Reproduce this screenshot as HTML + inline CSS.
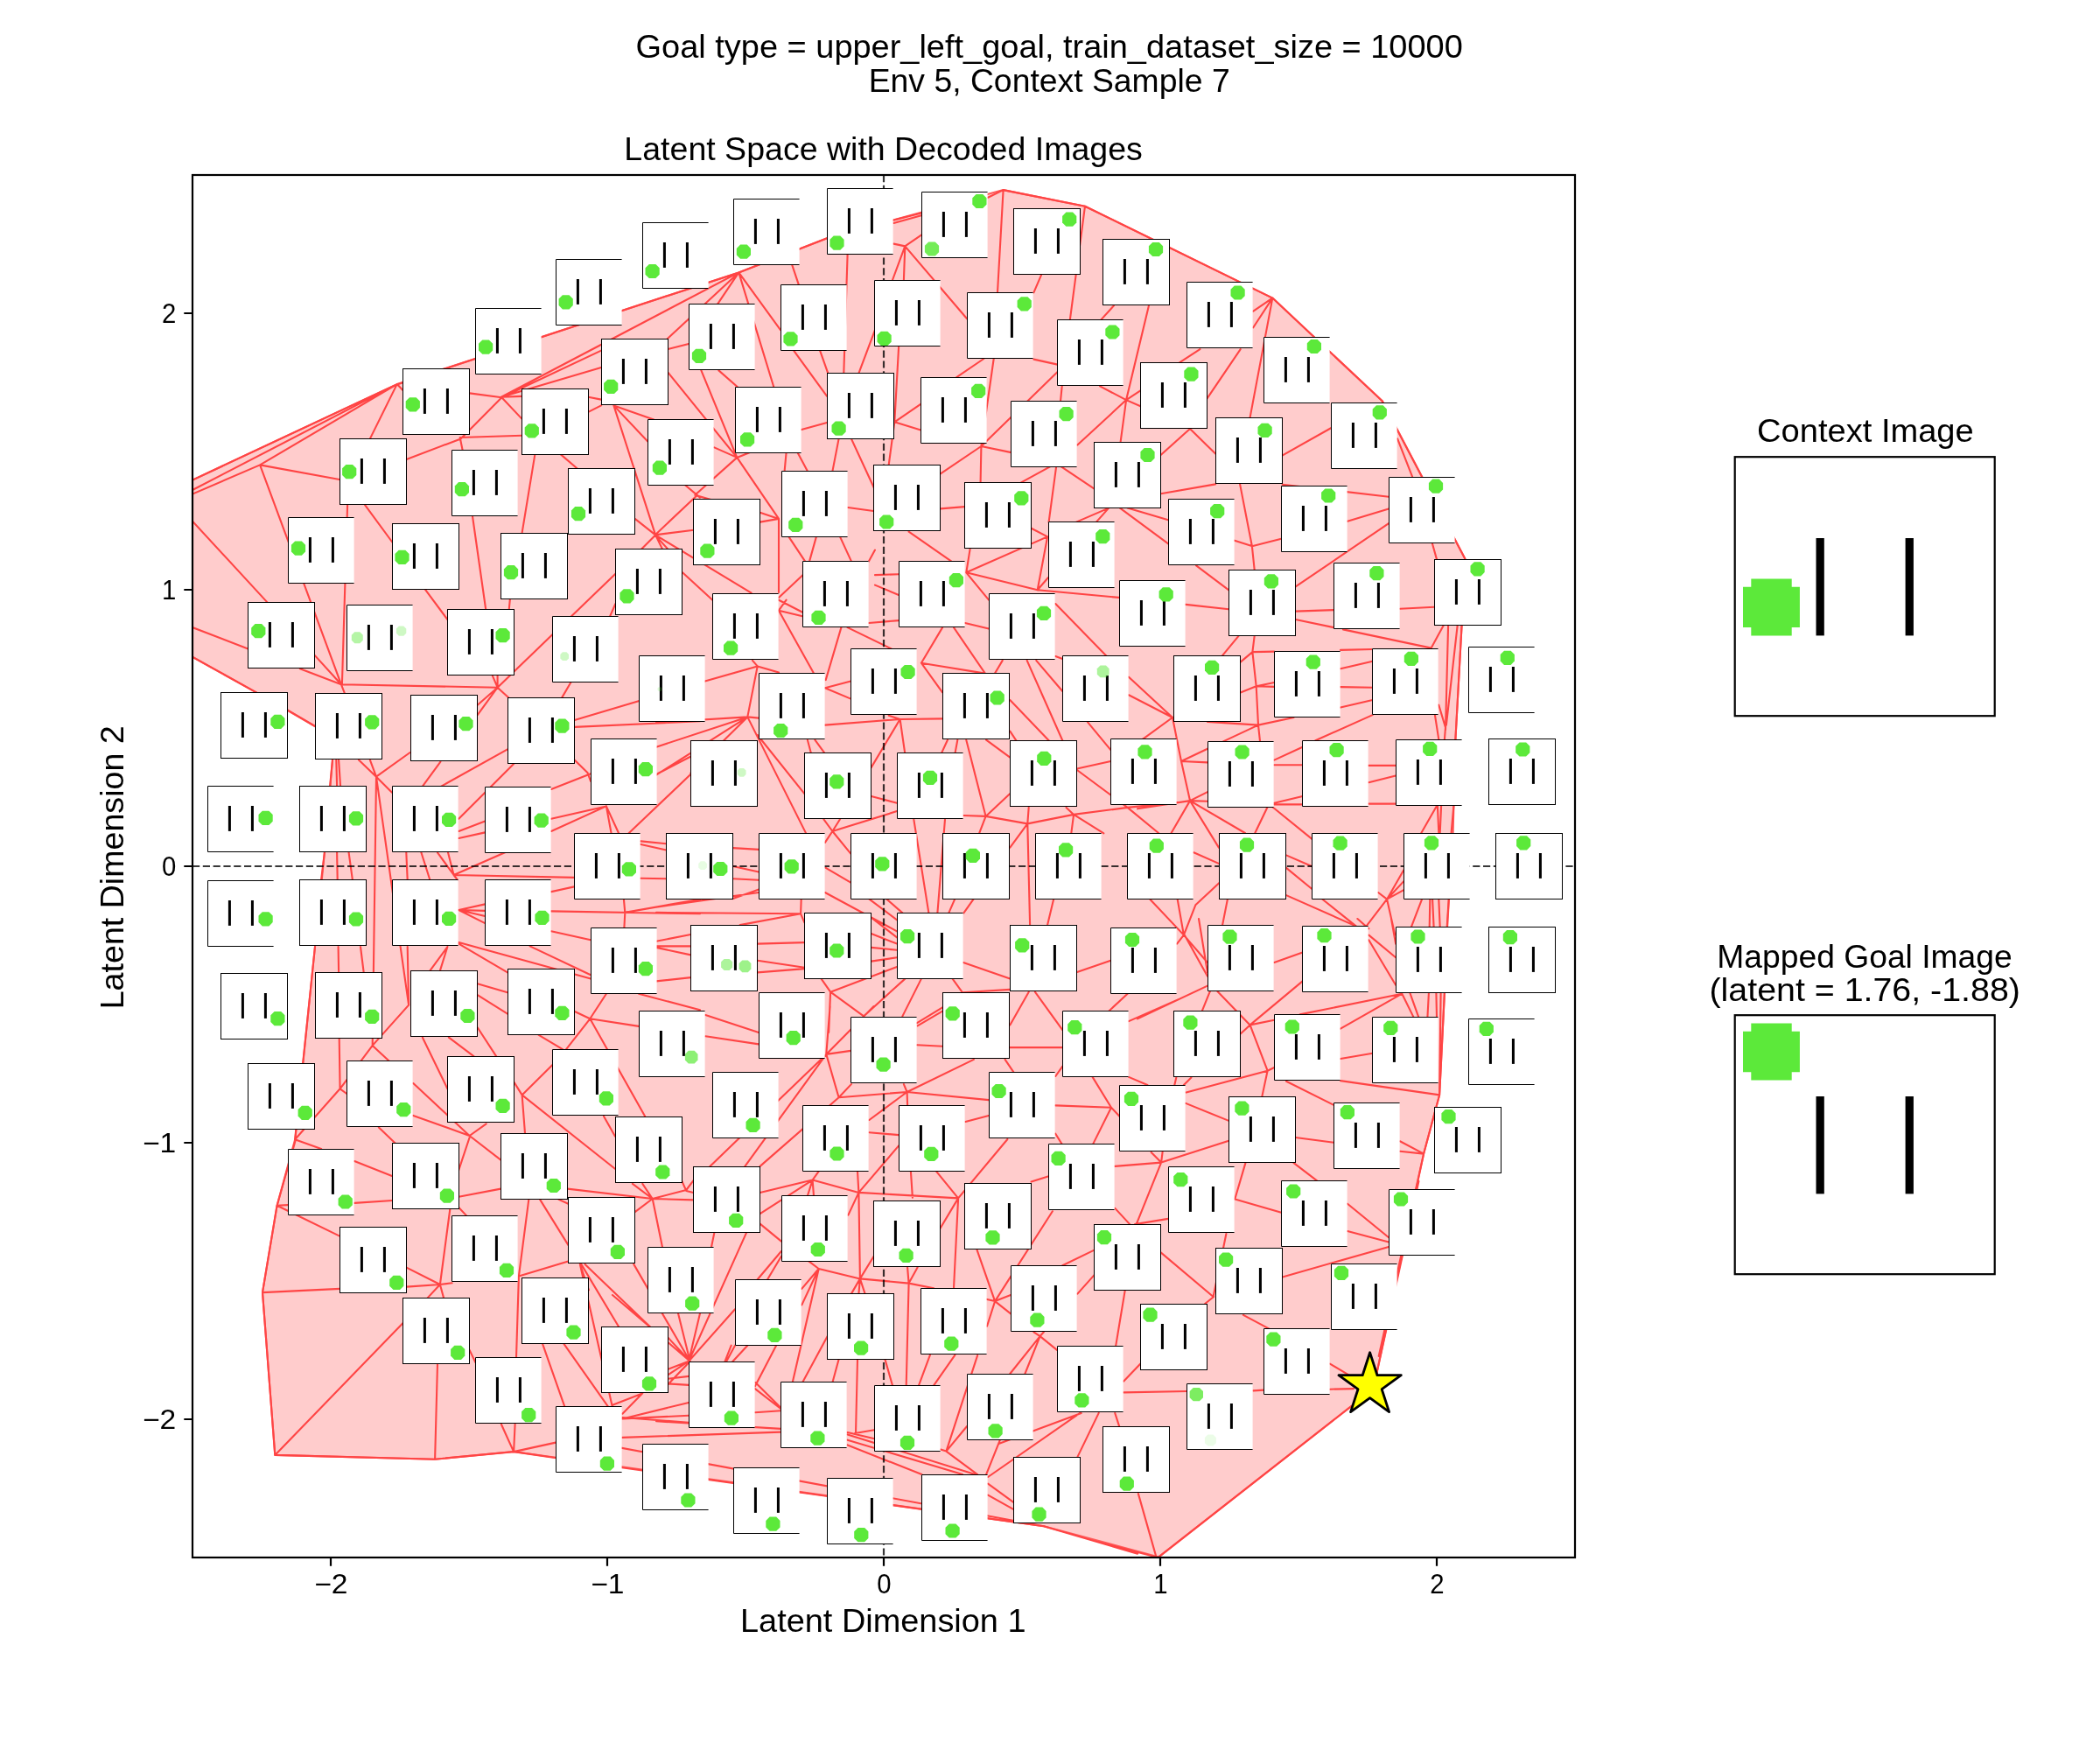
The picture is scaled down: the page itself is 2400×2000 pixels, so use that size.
<!DOCTYPE html>
<html><head><meta charset="utf-8"><title>Latent Space</title>
<style>
html,body{margin:0;padding:0;background:#fff;}
svg{display:block;}
text{font-family:"Liberation Sans",sans-serif;fill:#000;}
</style></head><body>
<svg width="2400" height="2000" viewBox="0 0 2400 2000" style="will-change:transform">
<rect width="2400" height="2000" fill="#fff"/>
<defs>
<clipPath id="ax"><rect x="220" y="200" width="1580" height="1580"/></clipPath>
<g id="t"><rect x="0.5" y="0.5" width="76" height="75" fill="#fff" stroke="#000" stroke-width="1"/><rect x="23.9" y="23.0" width="3" height="28.9" fill="#000"/><rect x="49.9" y="23.0" width="3" height="28.9" fill="#000"/></g>
<g id="u"><rect x="0" y="0" width="75.6" height="76" fill="#fff"/><path d="M75.6 0.5H0.5V75.5H75.6" fill="none" stroke="#000" stroke-width="1"/><rect x="23.9" y="23.0" width="3" height="28.9" fill="#000"/><rect x="49.9" y="23.0" width="3" height="28.9" fill="#000"/></g>
<polygon id="b" fill="#5ce93a" points="-3.8,-8.1 3.8,-8.1 8.1,-3.8 8.1,3.8 3.8,8.1 -3.8,8.1 -8.1,3.8 -8.1,-3.8"/>
</defs>
<g clip-path="url(#ax)">
<polygon fill="#ffcccc" points="200,558 453.7,439.1 844.3,311.4 946,272 1146.6,217.1 1240,235.7 1454.3,340.6 1580,458.6 1674.3,638.6 1670.6,714.3 1663.4,845 1660.6,952 1654.3,1055 1650.9,1134.9 1645.1,1251.4 1627.1,1318.6 1569.5,1587.4 1324.3,1779.4 1192.9,1744.3 587,1659 497.1,1667.7 314.3,1662.9 300,1477 316.6,1377.7 337.5,1301 360,1082 370.9,974.3 380,868.6 372,842 360,830 292.9,791.4 200,739.6"/>
<polygon fill="none" stroke="#ff5a5a" stroke-width="2.1" stroke-linejoin="round" points="200,558 453.7,439.1 844.3,311.4 946,272 1146.6,217.1 1240,235.7 1454.3,340.6 1580,458.6 1674.3,638.6 1670.6,714.3 1663.4,845 1660.6,952 1654.3,1055 1650.9,1134.9 1645.1,1251.4 1627.1,1318.6 1569.5,1587.4 1324.3,1779.4 1192.9,1744.3 587,1659 497.1,1667.7 314.3,1662.9 300,1477 316.6,1377.7 337.5,1301 360,1082 370.9,974.3 380,868.6 372,842 360,830 292.9,791.4 200,739.6"/>
<path d="M700 1652.9L1192.9 1744.3M700 1675.7L1192.9 1744.3M453.7 439.4L844.3 311.4M430 887.7L425.7 1194.9M572.9 453.7L844.3 311.4M1544.3 1607.1L1324.3 1779.4M297.1 531.4L390 782.3M430 887.7L467.1 1148.6M220 560L453.7 439.1M220 548.6L453.7 439.1M1240 235.7L1454.3 340.6M1627.1 1318.6L1575.7 1550M1621.4 1350L1571.4 1578.6M360 1082L337.1 1302.3M314.3 1662.9L460.6 1512M397.1 577.1L390.9 782.3M1579.6 458.6L1674.3 638.6M568.6 785.7L703.4 655.7M300 1477.1L314.3 1662.9M944.3 1204.9L811.4 1332.9M314.3 1662.9L497.1 1667.7M297.1 531.4L453.7 439.1M711.4 1642.9L892 1636.6M390 782.3L568.6 785.7M1454.3 340.6L1580 458.6M630 1041.4L800 1044.3M662.9 1444.9L700 1608.6M915.1 1044.3L750 1042.9M787.1 1555.7L852.9 1409.1M944.3 1204.9L851.4 1332.9M524.3 1077.1L675.1 1118.6M701.4 463.4L749.1 611.4M968.6 1639.4L1114.3 1685.1M854.3 819.4L921.4 952.9M656.6 830.9L800 824.3M750 1624.3L892.3 1632.9M1454.3 340.6L1428.6 477.1M518.6 1000L656.3 1002.9M968.6 1645.7L1100 1685.1M844.3 311.4L884.3 442.3M968.6 290.9L964.3 426.6M596.6 1251.4L702.9 1335.7M935.7 1450L905.7 1580M1670.6 714.3L1663.4 845.1M1240 235.7L1222.9 365.1M1587.5 597.9L1480.4 670.7M724.3 1444.9L788.6 1555.7M1234.3 1614.9L1129.1 1688M749.1 611.4L858.6 677.7M674.3 1164.3L737.1 1275.7M220 595.7L305.7 688.6M1465.7 1459.4L1587.1 1424.9M573.4 454.3L687.1 400.6M763.4 425.7L842.3 522.9M1465.7 553.7L1587.1 567.7M1202.9 1384.3L1137.1 1487.1M1121.4 510L1208.6 425.1M1655.1 714.3L1652 834.3M958.6 1254.3L868.6 1332.9M572.9 453.7L687.1 420M1485.7 1159.4L1602.3 1135.7M750 1036.6L867.1 1020M1146.6 217.1L1140 334.3M1038.6 1466.6L1035.7 1583.4M1650.9 1134.9L1645.1 1251.4M1646.6 1134.9L1645.1 1251.4M788.6 1555.7L700 1480M1174.3 941.4L1177.1 1057.1M1117.1 1549.1L1081.4 1658.6M1665.7 714.3L1652.9 828.6M1532 1235.1L1645.1 1251.4M981.4 1362.9L1095.1 1369.4M1192.9 1744.3L1300 1775.7M762.9 387.1L844.3 311.4M540 590L555.7 700M1287.1 457.1L1312.9 349.4M854.3 819.4L750 853.7M500 1558.6L497.1 1667.7M1034.3 281.4L1105.1 364.3M844.3 311.4L945.7 272M1044.3 936.3L1061.4 1043.4M801.4 423.4L842.3 522.9M1080 936.3L1071.4 1043.4M854.3 819.4L750 825.7M668.6 1444.9L742.9 1516.3M1534.9 719.4L1635.7 740.6M1095.1 1369.4L1090 1472.3M1197.1 613.4L1104.3 654.3M1135.7 410L1121.4 510M316.6 1377.7L300 1477.1M1235.7 1615.1L1141.4 1650M1173.7 754.9L1214.3 846.3M718.6 952.3L790 884.3M981.4 1362.9L982.9 1461.4M648.6 1358.6L745.7 1370M1448.6 1223.7L1355.7 1248.6M1146.6 217.1L1240 235.7M1036.6 1248L1130 1257.1M942.9 1020L1025.1 1064.3M1185.7 674.3L1278.6 682.9M592.9 1458.6L590 1551.4M297.1 531.4L388 548M968.6 1651.4L1053.4 1685.1M611.4 519.1L596.6 609.1M854.3 819.4L789.4 883.4M497.1 1667.7L587.1 1659.1M1104.3 845.7L1126.6 932.9M644.3 1535.7L695.7 1608.6M524.3 935.7L587.1 872.9M300 1477.1L388.6 1472.9M604.3 1370.9L592.9 1458.6M1300 1164.3L1380 1126.6M1469.4 1022.9L1550 1058.6M472.3 1238L536.6 1298M1151.4 1302L1095.1 1369.4M714.3 1042.9L800 1027.7M502.9 1468L514.3 1382M504.3 898.6L580 856.3M865.7 840L919.4 907.1M1028.6 822L942.9 828.6M1027.1 396.6L1022.3 482.3M980 1553.4L978 1638.6M1654.3 1050L1650.9 1134.9M1036.6 1248L1112.9 1210.9M842.3 522.9L890 592.9M890 592.9L890 677.1M297.1 531.4L220 564.6M1104.3 654.3L1185.7 674.3M220 750.9L292.9 791.4M664.3 1444.9L707.1 1516.3M1206.3 690L1264.3 749.4M890 697.7L930 769.4M949.1 1133.7L1025.1 1104.9M844.3 311.4L892 377.1M1327.1 1328.6L1404.3 1303.7M1602.3 1135.7L1532 1175.7M338.6 1300L316.6 1377.7M316.6 1377.7L388.6 1412.9M787.1 1555.7L840 1496.3M1326.6 1431.4L1386.6 1482M958.6 1254.3L1036.6 1248M1488.6 1121.4L1428.6 1171.4M711.4 1621.4L787.1 1602.9M388.6 1244.3L337.1 1302.3M620 1535.7L645.7 1608.6M656.6 822.9L730.6 800.9M944.3 1204.9L998.6 1150M951.4 950L1025.1 927.1M605.7 1081.4L675.1 1114.3M854.3 819.4L789.4 860.6M1327.1 1328.6L1298.6 1399.4M711.4 1620L787.1 1625.7M1287.1 457.1L1231.4 508.6M711.4 1621.4L787.1 1617.7M1300.9 1707.1L1321.4 1779.4M1321.4 1779.4L1250 1760.9M1386.6 1482L1401.4 1410M1360 915.1L1422.9 952M730 1135.7L800 1154.3M1052.9 757.7L1124.3 769.4M1417.1 553.4L1430.9 624.3M1284.3 1591.4L1356.3 1590M1230.9 880L1288.6 922.9M1568.6 817.1L1503.4 846.3M928.6 1348.6L868.6 1387.1M525.7 500L596.6 497.7M915.1 1044.3L845.7 1057.1M981.4 1362.9L1027.1 1309.4M1645.1 1251.4L1627.1 1318.6M453.7 439.1L422.9 501.4M630 950L692.9 921.4M1280 580.6L1335.1 621.4M536.6 1298L472.3 1274.9M1417.7 399.1L1379.4 455.7M1340 820L1290 773.7M220 717.1L283.4 741.4M467.1 1148.6L465.7 1082M573.4 454.3L526.6 501.4M464.6 525.1L526.6 501.4M482.9 1185.7L511.4 1244.3M524.3 1078.6L580 1111.4M748.6 611.4L795.7 567.1M907.1 400.6L945.1 452.9M1285.7 1474.9L1275.1 1538.6M972.9 501.4L1000 560M630 935.7L692.9 921.4M842.3 522.9L794.3 565.7M1028.6 822L995.7 877.1M806.3 1160L867.1 1180M1154.3 800L1198.6 846.3M518.6 1000L577.1 974.3M1465.8 520.3L1521.5 489M1270 1265.7L1206.3 1263.4M1207.1 533.4L1198.6 596.6M1034.3 1118.6L987.1 1161.4M1326.6 564.3L1389.1 553.4M1090 717.1L1125.7 769.4M1360 915.1L1392.9 968.6M961.4 717.1L943.7 777.1M865.7 761.4L805.7 778.6M1370 1050L1380 1111.4M467.1 1148.6L425.7 1194.9M1137.1 1487.1L1116.6 1428.6M1227.1 930.9L1288.6 922.9M1197.1 613.4L1185.7 674.3M388.6 1244.3L425.7 1194.9M928.6 1348.6L868.6 1362.9M806.3 1184.3L867.1 1193.4M617.1 1370.9L649.4 1422.9M1540 1375.7L1587.1 1414.3M1470 1235.7L1524.3 1262.9M1360 915.1L1300 924.3M1153.7 1197.1L1214.3 1197.1M1345.1 1142.9L1290 1167.1M945.7 1527.1L917.1 1580M1564.3 1074.3L1595.1 1125.7M1038.6 607.7L1087.1 641.4M854.3 819.4L865.7 761.4M592.9 1458.6L649.4 1441.4M1380 824.9L1438 828.6M1454.3 922.3L1499.1 958.6M1288.6 922.9L1345.7 917.1M387.7 1187.1L388.6 1244.3M745.7 1370L757.1 1425.7M788.6 1555.7L774.9 1500.6M1100.9 1100L1154.3 1118.6M674.3 1164.3L730 1172.9M787.1 1555.7L800 1500.9M1340 820L1290 794.3M701.4 463.4L740 504.3M1352.9 1068.6L1314.3 1027.7M1121.4 510L1074.9 541.4M1428.6 1171.4L1448.6 1223.7M982.9 1461.4L1038.6 1466.6M1255.7 1614.9L1231.4 1665.1M968.6 717.1L1018.6 741.4M944.3 1204.9L948.6 1150M1411.4 1370.6L1464.3 1385.7M1188.6 1527.1L1154.3 1570M928.6 1348.6L981.4 1362.9M1100 1134.3L1154.3 1130.9M865.7 1097.7L919.4 1105.7M1353.7 1068.6L1380 1115.7M1174.3 941.4L1227.1 930.9M865.7 1111.4L919.4 1107.1M865.7 1078.6L919.4 1077.1M1036.6 1248L993.4 1280M1182.9 1133.7L1214.3 1177.1M1428.6 1171.4L1391.4 1132.9M417.1 577.1L448.6 620M1355.1 1260.9L1404.3 1280.9M1327.1 1328.6L1274.3 1332.9M981.4 426.6L1000 377.1M887.1 1537.7L862.9 1584.3M944.3 1204.9L958.6 1254.3M1350 870L1340 820M342.9 764.3L390 782.3M1022.3 482.3L1015.7 531.4M1355.1 690.9L1404.3 696.3M1511.4 1027.7L1550 1058.6M1540 595.7L1587.1 581.4M587.1 1659.1L635.1 1648.6M587.1 1659.1L635.7 1666.3M596.6 1251.4L631.4 1217.1M524.3 1367.7L572.3 1358.6M1540 1407.1L1587.1 1419.4M1028.6 822L1077.1 821.4M1288.6 580.6L1335.1 594.3M935.7 1450L982.9 1461.4M630 902L675.1 884.3M1126.6 932.9L1174.3 941.4M1287.1 457.1L1280.6 505.1M701.4 463.4L747.1 479.4M1052.9 1118.6L1031.4 1161.4M1270 1265.7L1248.6 1308.6M430 887.7L468.6 860M1052.9 757.7L1077.1 717.1M745.7 1370L792.9 1371.4M1597.1 501.4L1614.3 545.4M949.1 1133.7L987.1 1161.4M789.4 860.6L750 885.7M405.1 1327.1L448.6 1344.3M1367.1 646.3L1404.3 674.3M780 654.3L814.3 685.7M949.1 1133.7L947.1 1180M1288.6 922.9L1324.3 952.3M1350 870L1360 915.1M630 1064.3L675.1 1074.3M1184.3 754.9L1214.3 790M1188.6 1527.1L1171.4 1570M935.7 1450L916.3 1491.4M359.4 748.6L390 782.3M1212.9 533.4L1250.6 558.6M536.6 1298L572.3 1325.7M1360 490L1326.6 520M1480.6 708L1524.3 717.1M748.6 611.4L792.9 605.7M1081.4 1658.6L1117.1 1685.1M787.1 1555.7L750 1580M1435.7 784.3L1438 828.6M1438 828.6L1398 847.4M674.3 1164.3L647.1 1199.1M1480.6 1300L1524.3 1305.7M596.6 1251.4L600 1295.1M1480.6 698.6L1524.3 697.1M820 347.7L844.3 311.4M405.1 1374.9L448.6 1372M751.4 884.3L790 864.3M1175.7 1133.7L1154.3 1171.4M485.7 673.4L511.4 708M502.9 1468L464.6 1448.6M1360 915.1L1338.6 952M1423.4 1329.1L1411.4 1370M1091.4 1548.6L1067.1 1583.4M1142.9 1645.7L1127.1 1685.1M892.9 1430L865.7 1462.3M1585.1 1027.7L1594.3 1068.6M1242.9 825.1L1269.4 857.1M1052.9 757.7L1077.1 791.4M1352.9 1068.6L1380 1100M1352.9 1068.6L1345.7 1027.7M1438 828.6L1478.6 820M1121.4 510L1120.6 551.4M1034.3 281.4L1020 320M1248.6 1230.9L1270 1265.7M1360 490L1389.1 518.6M1230.9 1110.9L1269.4 1097.7M1095.1 1369.4L1074.3 1404.3M1104.3 654.3L1130 685.7M1267.1 580.6L1230 596.6M1227.1 930.9L1261.4 952.3M545.7 1137.1L580 1158.6M863.4 1580L892 1608.6M992.9 1027.1L1025.1 1051.4M1214.3 1446.3L1250.6 1428.6M750 1082.9L789.4 1091.4M1454.3 340.6L1432.3 374.3M750 1075.7L789.4 1068M1564.3 1068.6L1595.1 1094.3M745.7 1370L784.3 1360M1028.6 822L1034.3 861.4M1095.1 1369.4L1070 1338.6M787.1 1555.7L750 1570M750 1121.4L789.4 1117.1M1230.9 878.6L1269.4 870M750 1081.4L789.4 1081.4M1431.4 745.1L1435.7 784.3M545.7 1174.3L567.1 1207.1M1600 695.7L1639.1 693.7M524.3 1337.1L536.6 1300M1585.1 1027.7L1561.4 1058.6M1340 820L1308.6 842.9M568.6 785.7L545.7 817.1M1034.3 281.4L1032.9 320M1585.1 1027.7L1604.3 994.3M1297.1 1399.1L1335.1 1392.9M1469.4 991.4L1499.1 1015.7M502.9 1468L464.6 1470.6M1124.3 410L1092.9 431.4M958.6 501.4L951.4 538.6M1126.6 932.9L1154.3 907.1M890 682.9L917.7 657.1M1532 808.6L1568.6 800M1532 764.3L1568.6 755.7M1200 533.4L1167.1 551.4M995.7 1048.6L1025.1 1071.4M862.9 1587.1L892.3 1610M573.4 454.3L536.6 449.4M1062.9 1548.6L1050 1583.4M1081.4 1658.6L1105.1 1630M1532 1210L1568.6 1203.7M1022.3 482.3L1052.9 461.4M1393.4 1009.1L1366.3 1034.3M788.6 1555.7L763.4 1528.6M1366.3 1034.3L1352.9 1068.6M788.6 1555.7L763.4 1582.3M1532 742.9L1568.6 742M1532 785.1L1568.6 785.7M328.6 811.4L360 830M1129.1 1695.7L1158.6 1717.1M1642.3 920.6L1624.3 952M545.7 1124.3L580 1134.3M512.9 1185.7L541.4 1207.1M1488.6 853.7L1456.3 868.6M700 1605.7L732.9 1592.9M1121.4 510L1155.7 517.1M482.9 898.6L503.4 870.6M1420.9 1502.9L1451.4 1519.1M573.4 454.3L597.1 479.4M572.9 1627.7L587.1 1659.1M1430.9 624.3L1464.3 615.7M992.9 712L1027.1 709.1M1456.3 1100L1488.6 1088.6M1048 1169.1L1077.1 1151.4M674.3 1164.3L692.9 1135.7M942.9 991.4L972.3 1008.6M1625.1 1027.7L1612.9 1059.4M692.9 921.4L707.1 952.3M511.4 1082L491.4 1109.4M1287.1 457.1L1257.1 441.4M993.4 1294.3L1027.1 1297.1M1129.1 1708.6L1158.6 1725.1M1127.1 845.7L1154.3 865.7M1174.3 941.4L1154.3 968.6M524.3 1040L554.3 1055.1M901.4 613.4L920 641.4M1478.6 1329.1L1505.1 1349.4M1380 855.7L1350 870M1456.3 917.7L1488.6 910M951.4 950L972.3 975.7M1048.6 1172.3L1077.1 1155.7M481.4 974.3L491.4 1005.7M1448.6 922.3L1434.3 952M734.3 1592.3L711.4 1615.7M1021.4 254.9L1052.9 246.3M1021.4 251.4L1052.9 243.4M1469.4 977.1L1499.1 990M1456.3 874.3L1488.6 874.3M1456.3 919.4L1488.6 919.4M524.3 950L554.3 938.6M942.9 786.3L972.3 798.6M1364.3 974.3L1393.4 987.1M337.1 1302.3L367.1 1312.9M1564.3 894.3L1595.1 886.6M1655.7 1027.7L1653.7 1059.4M1644.3 1027.7L1645.7 1059.4M1637.1 1027.7L1638.6 1059.4M1634.3 1027.7L1633.7 1059.4M398.6 974.3L402.9 1005.7M500 974.3L518.6 1000M968.6 1637.1L999.4 1644.3M615.7 1182.9L642.9 1199.1M370.9 974.3L367.1 1005.7M995.7 1067.1L1025.1 1078.6M1661.4 920.6L1658.6 952M464.3 974.3L465.7 1005.7M1642.9 920.6L1644.3 952M1647.1 920.6L1645.7 952M588.6 1627.7L587.1 1659.1M892.9 1418.6L868.6 1398.6M385.1 974.3L385.7 1005.7M692.9 921.4L698.6 952.3M1022.3 482.3L1052.3 491.4M837.7 1027.1L867.1 1016.6M1011.4 1553.4L1020 1583.4M890 685.7L917.7 700M969.1 580L1000 584.3M662.9 1444.9L672.9 1474.3M892.9 1435.7L877.1 1462.3M1564.3 918.6L1595.1 918.6M1564.3 874.9L1595.1 874.9M524.3 1040L554.3 1047.1M1204.3 1027.1L1197.1 1057.1M960 613.4L972.9 641.4M524.3 1040L554.3 1033.4M524.3 958L554.3 951.4M1600 1304.3L1627.1 1318.6M942.9 786.3L972.3 778.6M995.7 910L1025.1 917.7M568.6 785.7L545.7 805.7M1448.6 1223.7L1442.3 1253.4M1602.3 1135.7L1615.7 1162.9M916 490.9L945.1 482.9M837.7 990L867.1 996.6M982.9 1461.4L998.6 1435.7M380 868.6L377.1 898.6M387.1 868.6L389.1 898.6M1040.9 1338.6L1042.9 1368.6M1350 870L1380 871.4M384.3 868.6L385.1 898.6M524.3 1040L554.3 1040.9M935.7 1450L916.3 1472.9M1137.1 1487.1L1128 1515.7M1402.9 1027.7L1397.1 1057.1M1650 714.3L1635.7 740.6M725.7 592.9L749.1 611.4M732.3 964.9L761.4 971.4M995.7 1098.6L1025.1 1094.3M1611.4 1134.9L1621.4 1162.9M412 1082L415.7 1111.4M995.7 1082.9L1025.1 1085.7M862.9 1614.3L892.3 1612.3M837.7 969.1L867.1 970.9M837.7 1004.3L867.1 1005.7M1000 668.6L1027.1 680M386.6 1082L387.1 1111.4M1288.6 1135.7L1267.1 1155.7M732.3 961.4L761.4 964.3M1415.7 726.6L1397.1 749.1M1048 1194.3L1077.1 1195.7M732.3 1003.7L761.4 1004.3M1038.6 1466.6L1067.1 1472.3M932.9 613.4L925.1 641.4M1590 1050L1595.1 1078.6M511.4 1082L502.9 1109.4M1231.4 1478.6L1250.6 1457.1M745.7 1370L722.9 1352.9M821.4 423.4L842.9 442.3M816.3 511.4L842.3 522.9M981.4 1362.9L969.4 1388.6M1428.6 1171.4L1456.3 1165.7M944.3 1204.9L972.3 1200.9M1585.1 1027.7L1604.3 1007.1M1632.9 1134.9L1631.4 1162.9M1641.4 1134.9L1642 1162.9M890 697.7L917.1 704.3M1102.9 712L1130 718.6M1371.4 399.1L1348 414.3M1181.4 410.6L1208.6 416.6M1640 817.7L1644.3 845.1M1284.3 1578.6L1303.4 1558.6M430 887.7L410 868.6M937.1 400.6L946.3 426.6M1074.9 581.4L1102.3 579.1M1103.4 1282L1130 1274.9M958.6 1553.4L951.4 1580M1430.9 624.3L1433.7 651.4M1600 1315.7L1627.1 1318.6M1000 657.1L1027.1 656.3M1520 1587.7L1547.1 1587.1M1104.3 654.3L1108.6 627.7M630 1019.1L656.3 1013.4M1644.3 805.7L1652 831.4M1454.3 340.6L1432.3 355.7M512 974.3L518.6 1000M690 1275.7L702.9 1298.6M432.9 1288.6L451.4 1306.3M425.7 1194.9L444.3 1212.3M430 887.7L448 905.7M865.7 761.4L890 768.6M1274.3 1380.9L1291.4 1399.4M837.1 1556.3L854.3 1537.7M1126.6 932.9L1101.4 932M640.9 519.4L660 535.7M745.7 1370L725.7 1385.1M1520 1558.6L1541.4 1571.4M1188.6 1527.1L1208 1542.9M1431.4 745.1L1456.3 744.6M1012.9 1027.1L1031.4 1043.4M905.1 302.3L912.9 325.7M1382.9 1132.9L1373.7 1155.7M763.4 399.1L787.1 392.9M981.4 1362.9L980 1338.6M911.4 517.1L922.9 538.6M763.4 1575.7L787.1 1572.9M763.4 1581.4L787.1 1582.9M572.9 453.7L596.6 452.9M536.6 1298L555.7 1284.3M1290 1230.9L1311.4 1240M749.1 611.4L732.9 627.7M1137.1 1487.1L1155.1 1501.4M1034.3 281.4L1052.9 268.6M890 592.9L868.6 585.7M1360 915.1L1380 905.1M782.9 554.3L800 568.6M977.1 1638L999.1 1634.3M1585.1 1027.7L1604.3 1017.1M1190 314.3L1181.4 334.3M890 592.9L868.6 596.6M1227.1 930.9L1224.3 952.3M1431.4 624.3L1410.9 617.7M898.6 517.1L896.6 538.6M1267.1 580.6L1252.9 596.6M1272.9 349.4L1258.6 365.1M748.6 611.4L762.9 627.1M830 1556.3L840 1537.7M502.9 1468L488.6 1483.4M1435.7 784.3L1456.3 780M1178.6 1350.6L1198.6 1344.3M1197.1 613.4L1178.6 603.7M958.6 1254.3L972.9 1239.1M794.3 565.7L814.3 571.4M1126.6 932.9L1119.1 952.3M656.6 868.6L671.4 882.9M745.7 1370L734.3 1352.9M1038.6 1466.6L1048.6 1448.6M1435.7 784.3L1456.3 784.9M430 887.7L422.9 868.6M1360 915.1L1380 915.7M674.3 1164.3L656.3 1155.7M1101.4 1043.4L1112.9 1027.1M652.3 780L642.3 797.1M982.9 1461.4L972.9 1478.6M1636.8 620.8L1642.1 639.6M1287.1 457.1L1303.4 446.3M1088.6 1118.6L1100 1134.3M931.4 845.7L942.9 861.4M1129.1 225.7L1146.6 217.1M1435.7 784.3L1417.7 791.4M835.7 1537.7L828.6 1555.7M1137.1 1487.1L1155.1 1480M928.6 1348.6L922.9 1366.6M1185.7 674.3L1198 660M1433.7 726.6L1431.4 745.1M1438 828.6L1440 847.1M1174.3 941.4L1175.7 922.9M949.1 1133.7L938.6 1118.6M749.1 611.4L757.1 627.7M982.9 1461.4L988.6 1478.6M928.6 1348.6L930 1366.6M1038.6 1466.6L1037.1 1448.6M1148.6 1210.9L1158.6 1225.7M1431.4 745.1L1417.7 756.6M1084.3 1043.4L1091.4 1027.1M1287.1 457.1L1303.4 464.3M1082.9 845.7L1075.7 861.4M1213.7 441.4L1212 458.6M1564.3 1061.4L1551.4 1050M982.9 1461.4L981.4 1478.6M714.3 1042.9L713.4 1060M915.1 1044.3L915.7 1027.1M951.4 950L941.4 936.3M816.3 1409.1L812.9 1425.7M1137.1 769.4L1145.7 754.9M596.6 1251.4L587.7 1237.1M568.6 785.7L580.9 797.1M672.3 470.9L687.1 463.4M1274.3 1615.1L1279.4 1630.9M922.9 845.7L927.1 861.4M951.4 950L960 936.3M1327.1 1328.6L1315.7 1317.1M502.9 1468L507.1 1483.4M1094.3 845.7L1091.4 861.4M842.3 522.9L857.1 517.1M536.6 1542.9L543.4 1557.1M582.9 684.3L581.4 700M697.1 704.3L703.4 690M951.4 950L942.9 962.9M1036.6 1248L1037.1 1263.4M714.3 1042.9L712.9 1027.7M1206.3 1295.7L1214.3 1308.6M672.3 453.7L687.1 456.6M1428.6 1171.4L1417.7 1181.4M890 697.7L898.6 685.7M992.9 641.4L1000 628.6M568.6 785.7L562.9 772.3M525.7 500L528.6 514.3M935.7 1450L924.3 1441.4M784.3 1360L792.9 1348.6M1214.3 1218.6L1206.3 1230M502.9 1468L516.6 1466.3M1652 831.4L1650.9 845.1M1270 1265.7L1279.4 1275.7M1028.6 822L1015.7 817.7M568.6 785.7L568.6 772.3M1034.3 281.4L1021.4 278.6M854.3 819.4L867.1 820.6M1387.1 1482L1377.1 1490M1154.3 835.7L1161.4 846.3M1585.1 1027.7L1575.1 1020M1352.9 1068.6L1345.1 1078.6M316.6 1377.7L329.1 1377.1M524.3 1380L532.9 1389.1M928.6 1348.6L935.7 1338.6M1361.4 1231.4L1352.9 1240M1327.1 1328.6L1328.6 1316.6M1432.3 1589.4L1444.3 1588.6M390 782.3L394.3 793.4M638.6 1370.9L649.4 1375.7M784.3 1360.9L779.4 1350M1227.1 930.9L1218.6 922.9M453.7 439.1L461.4 447.1M915.1 1044.3L919.4 1054.3M671.4 882.9L675.1 892.9M1340 820L1350 817.1M1308.6 842.9L1300 848.6M1036.6 1248L1032.9 1239.1M388.6 1244.3L396.3 1250M1137.1 1487.1L1128 1484.9M1344.3 1231.4L1342.3 1240M865.7 761.4L860 754.9M1188.6 1527.1L1181.4 1522.3M1448.6 1223.7L1456.3 1220M1206.3 750L1214.3 752.9M784.3 1360.9L792.3 1362.9M518.6 1000L522.9 1005.7M1081.4 1658.6L1075.1 1656.6M1188.6 1527.1L1192.9 1522.3" fill="none" stroke="#ff4444" stroke-width="2.1" stroke-linecap="round"/>
<path d="M220 990H1800M1010 200V1780" stroke="#000" stroke-opacity="0.78" stroke-width="2.2" stroke-dasharray="8.2 3.6" fill="none"/>
<use href="#u" x="972" y="952"/><use href="#b" x="1008.3" y="987.3"/>
<use href="#t" x="1077" y="952"/><use href="#b" x="1111.9" y="977.8"/>
<use href="#u" x="1025" y="860"/><use href="#b" x="1063" y="888.8"/>
<use href="#t" x="919" y="860"/><use href="#b" x="956.3" y="893.4"/>
<use href="#u" x="867" y="952"/><use href="#b" x="904.7" y="990.3"/>
<use href="#t" x="919" y="1043"/><use href="#b" x="956.3" y="1086.5"/>
<use href="#u" x="1025" y="1043"/><use href="#b" x="1037.1" y="1070.1"/>
<use href="#u" x="1183" y="952"/><use href="#b" x="1218.1" y="971.3"/>
<use href="#t" x="1154" y="846"/><use href="#b" x="1193.3" y="866.8"/>
<use href="#t" x="1077" y="769"/><use href="#b" x="1139.7" y="797.5"/>
<use href="#u" x="972" y="741"/><use href="#b" x="1037.6" y="768"/>
<use href="#u" x="867" y="769"/><use href="#b" x="892.2" y="835"/>
<use href="#t" x="789" y="846"/><use href="#b" transform="translate(847.7 882.8) scale(0.6)" opacity="0.3"/>
<use href="#t" x="761" y="952"/><use href="#b" x="823.3" y="993"/><use href="#b" transform="translate(803.1 989.2) scale(0.6)" opacity="0.15"/>
<use href="#t" x="789" y="1057"/><use href="#b" transform="translate(830.6 1102.4) scale(0.8)" opacity="0.5"/><use href="#b" transform="translate(851.5 1104.3) scale(0.85)" opacity="0.6"/>
<use href="#u" x="867" y="1134"/><use href="#b" x="906.7" y="1186.1"/>
<use href="#u" x="972" y="1162"/><use href="#b" x="1009.6" y="1216.6"/>
<use href="#t" x="1077" y="1134"/><use href="#b" x="1088.7" y="1158.3"/>
<use href="#t" x="1154" y="1057"/><use href="#b" x="1168.2" y="1080.3"/>
<use href="#u" x="1288" y="952"/><use href="#b" x="1321.8" y="966.7"/>
<use href="#u" x="1269" y="844"/><use href="#b" x="1308.5" y="859.4"/>
<use href="#u" x="1214" y="749"/><use href="#b" transform="translate(1260.7 767.4) scale(0.85)" opacity="0.5"/>
<use href="#u" x="1130" y="678"/><use href="#b" x="1193" y="700.9"/>
<use href="#u" x="1027" y="641"/><use href="#b" x="1092.9" y="663.1"/>
<use href="#u" x="917" y="641"/><use href="#b" x="935.5" y="705.8"/>
<use href="#u" x="814" y="678"/><use href="#b" x="835.1" y="740.7"/>
<use href="#u" x="730" y="749"/><use href="#b" transform="translate(754 787.6) scale(0.3)" opacity="0.2"/>
<use href="#u" x="675" y="844"/><use href="#b" x="737.9" y="879.2"/>
<use href="#u" x="656" y="952"/><use href="#b" x="718.9" y="993.4"/>
<use href="#u" x="675" y="1060"/><use href="#b" x="737.9" y="1107.2"/>
<use href="#u" x="730" y="1155"/><use href="#b" transform="translate(790.2 1208.1) scale(0.9)" opacity="0.7"/>
<use href="#u" x="814" y="1225"/><use href="#b" x="860.6" y="1285.9"/>
<use href="#u" x="917" y="1263"/><use href="#b" x="956.5" y="1318.5"/>
<use href="#u" x="1027" y="1263"/><use href="#b" x="1064.3" y="1318.9"/>
<use href="#u" x="1130" y="1225"/><use href="#b" x="1141.6" y="1247"/>
<use href="#u" x="1214" y="1155"/><use href="#b" x="1228.3" y="1174.2"/>
<use href="#u" x="1269" y="1060"/><use href="#b" x="1294" y="1074"/>
<use href="#t" x="1393" y="952"/><use href="#b" x="1425" y="965.6"/>
<use href="#u" x="1380" y="847"/><use href="#b" x="1419.6" y="859.5"/>
<use href="#t" x="1341" y="749"/><use href="#b" x="1385.1" y="762.8"/>
<use href="#u" x="1279" y="663"/><use href="#b" x="1332.7" y="679.4"/>
<use href="#u" x="1198" y="596"/><use href="#b" x="1260.3" y="613.1"/>
<use href="#t" x="1102" y="551"/><use href="#b" x="1167.3" y="569.3"/>
<use href="#t" x="998" y="531"/><use href="#b" x="1013.2" y="596.5"/>
<use href="#u" x="893" y="538"/><use href="#b" x="909.3" y="599.9"/>
<use href="#t" x="792" y="570"/><use href="#b" x="808.4" y="629.6"/>
<use href="#t" x="703" y="627"/><use href="#b" x="716.5" y="681.3"/>
<use href="#u" x="631" y="704"/><use href="#b" transform="translate(645.2 750.2) scale(0.6)" opacity="0.3"/>
<use href="#t" x="580" y="797"/><use href="#b" x="642.4" y="829.6"/>
<use href="#u" x="554" y="899"/><use href="#b" x="618.7" y="937.6"/>
<use href="#u" x="554" y="1005"/><use href="#b" x="619.5" y="1048.8"/>
<use href="#t" x="580" y="1107"/><use href="#b" x="642.4" y="1157.8"/>
<use href="#u" x="631" y="1199"/><use href="#b" x="692.9" y="1255.4"/>
<use href="#t" x="703" y="1276"/><use href="#b" x="757.3" y="1339.5"/>
<use href="#t" x="792" y="1333"/><use href="#b" x="841.2" y="1394.9"/>
<use href="#u" x="893" y="1366"/><use href="#b" x="934.8" y="1428"/>
<use href="#t" x="998" y="1372"/><use href="#b" x="1035.6" y="1434.8"/>
<use href="#t" x="1102" y="1352"/><use href="#b" x="1134.5" y="1414.4"/>
<use href="#u" x="1198" y="1307"/><use href="#b" x="1209.6" y="1323.9"/>
<use href="#u" x="1279" y="1240"/><use href="#b" x="1293" y="1255.8"/>
<use href="#t" x="1341" y="1155"/><use href="#b" x="1360.4" y="1168.6"/>
<use href="#u" x="1380" y="1057"/><use href="#b" x="1405.5" y="1070.6"/>
<use href="#u" x="1499" y="952"/><use href="#b" x="1531.6" y="963.7"/>
<use href="#u" x="1488" y="846"/><use href="#b" x="1527.6" y="857.1"/>
<use href="#u" x="1456" y="744"/><use href="#b" x="1500.8" y="756.6"/>
<use href="#t" x="1404" y="651"/><use href="#b" x="1452.9" y="664.4"/>
<use href="#u" x="1335" y="570"/><use href="#b" x="1391.2" y="584.1"/>
<use href="#t" x="1250" y="505"/><use href="#b" x="1311.5" y="520"/>
<use href="#u" x="1155" y="458"/><use href="#b" x="1218.6" y="473.1"/>
<use href="#u" x="1052" y="431"/><use href="#b" x="1118.2" y="446.9"/>
<use href="#t" x="945" y="426"/><use href="#b" x="958.6" y="489.6"/>
<use href="#u" x="840" y="442"/><use href="#b" x="854.1" y="502.4"/>
<use href="#u" x="740" y="479"/><use href="#b" x="753.9" y="534.7"/>
<use href="#t" x="649" y="535"/><use href="#b" x="661" y="587.2"/>
<use href="#t" x="572" y="609"/><use href="#b" x="584" y="654.2"/>
<use href="#t" x="511" y="696"/><use href="#b" x="574.6" y="726.1"/>
<use href="#t" x="469" y="794"/><use href="#b" x="532.5" y="827.2"/>
<use href="#u" x="448" y="898"/><use href="#b" x="513.1" y="936.9"/>
<use href="#u" x="448" y="1005"/><use href="#b" x="513.1" y="1049.9"/>
<use href="#t" x="469" y="1109"/><use href="#b" x="534.4" y="1161"/>
<use href="#t" x="511" y="1207"/><use href="#b" x="574.6" y="1263.9"/>
<use href="#t" x="572" y="1295"/><use href="#b" x="632.8" y="1355"/>
<use href="#t" x="649" y="1368"/><use href="#b" x="705.9" y="1430.8"/>
<use href="#u" x="740" y="1425"/><use href="#b" x="791.2" y="1489.7"/>
<use href="#u" x="840" y="1462"/><use href="#b" x="885.4" y="1525.9"/>
<use href="#t" x="945" y="1478"/><use href="#b" x="984.1" y="1540.6"/>
<use href="#u" x="1052" y="1472"/><use href="#b" x="1087.3" y="1535.7"/>
<use href="#u" x="1155" y="1446"/><use href="#b" x="1185.4" y="1508.7"/>
<use href="#t" x="1250" y="1399"/><use href="#b" x="1262" y="1414.2"/>
<use href="#u" x="1335" y="1333"/><use href="#b" x="1349.3" y="1348.1"/>
<use href="#t" x="1404" y="1253"/><use href="#b" x="1419.4" y="1266.6"/>
<use href="#u" x="1456" y="1159"/><use href="#b" x="1476.8" y="1173.5"/>
<use href="#u" x="1488" y="1058"/><use href="#b" x="1513.5" y="1069.2"/>
<use href="#u" x="1604" y="952"/><use href="#b" x="1636" y="963.3"/>
<use href="#u" x="1595" y="845"/><use href="#b" x="1634.2" y="855.9"/>
<use href="#u" x="1568" y="741"/><use href="#b" x="1612.9" y="752.8"/>
<use href="#u" x="1524" y="643"/><use href="#b" x="1573.4" y="655.1"/>
<use href="#u" x="1464" y="555"/><use href="#b" x="1518.2" y="566.5"/>
<use href="#t" x="1389" y="477"/><use href="#b" x="1445.6" y="491.9"/>
<use href="#t" x="1303" y="414"/><use href="#b" x="1361.4" y="427.6"/>
<use href="#u" x="1208" y="365"/><use href="#b" x="1271.4" y="379.5"/>
<use href="#u" x="1105" y="334"/><use href="#b" x="1170.7" y="347.3"/>
<use href="#u" x="999" y="320"/><use href="#b" x="1010.6" y="386.9"/>
<use href="#u" x="892" y="325"/><use href="#b" x="903.5" y="387.4"/>
<use href="#u" x="787" y="347"/><use href="#b" x="799" y="406.8"/>
<use href="#t" x="687" y="387"/><use href="#b" x="698.2" y="441.9"/>
<use href="#t" x="596" y="444"/><use href="#b" x="607.8" y="492.4"/>
<use href="#u" x="516" y="514"/><use href="#b" x="527.9" y="559.2"/>
<use href="#t" x="448" y="598"/><use href="#b" x="459.5" y="636.9"/>
<use href="#u" x="396" y="691"/><use href="#b" transform="translate(408.3 728.7) scale(0.8)" opacity="0.45"/><use href="#b" transform="translate(458.6 721.1) scale(0.7)" opacity="0.3"/>
<use href="#t" x="360" y="792"/><use href="#b" x="425.2" y="825.3"/>
<use href="#t" x="342" y="898"/><use href="#b" x="407" y="935.4"/>
<use href="#t" x="342" y="1005"/><use href="#b" x="407" y="1050.5"/>
<use href="#t" x="360" y="1111"/><use href="#b" x="425.2" y="1161.9"/>
<use href="#u" x="396" y="1212"/><use href="#b" x="461.3" y="1268.1"/>
<use href="#t" x="448" y="1306"/><use href="#b" x="510.9" y="1366.6"/>
<use href="#u" x="516" y="1389"/><use href="#b" x="579" y="1451.9"/>
<use href="#t" x="596" y="1460"/><use href="#b" x="655.5" y="1522.6"/>
<use href="#t" x="687" y="1516"/><use href="#b" x="742" y="1581.4"/>
<use href="#u" x="787" y="1556"/><use href="#b" x="835.9" y="1620.7"/>
<use href="#u" x="892" y="1579"/><use href="#b" x="934.4" y="1643.6"/>
<use href="#u" x="999" y="1583"/><use href="#b" x="1037" y="1648.8"/>
<use href="#u" x="1105" y="1570"/><use href="#b" x="1137.6" y="1635.3"/>
<use href="#u" x="1208" y="1538"/><use href="#b" x="1236.4" y="1600.4"/>
<use href="#t" x="1303" y="1490"/><use href="#b" x="1314.5" y="1502.7"/>
<use href="#t" x="1389" y="1426"/><use href="#b" x="1401.1" y="1439.6"/>
<use href="#u" x="1464" y="1349"/><use href="#b" x="1478.2" y="1361.5"/>
<use href="#u" x="1524" y="1260"/><use href="#b" x="1539.9" y="1271.2"/>
<use href="#u" x="1568" y="1162"/><use href="#b" x="1589.3" y="1174.8"/>
<use href="#u" x="1595" y="1059"/><use href="#b" x="1620.5" y="1070.5"/>
<use href="#t" x="1709" y="952"/><use href="#b" x="1741.2" y="963.3"/>
<use href="#t" x="1701" y="844"/><use href="#b" x="1740.3" y="856.5"/>
<use href="#u" x="1678" y="739"/><use href="#b" x="1722.8" y="751.8"/>
<use href="#t" x="1639" y="639"/><use href="#b" x="1688.6" y="650.3"/>
<use href="#u" x="1587" y="545"/><use href="#b" x="1641" y="555.7"/>
<use href="#u" x="1521" y="460"/><use href="#b" x="1576.8" y="471.3"/>
<use href="#u" x="1444" y="385"/><use href="#b" x="1501.9" y="396"/>
<use href="#u" x="1356" y="322"/><use href="#b" x="1414.6" y="334.5"/>
<use href="#t" x="1260" y="273"/><use href="#b" x="1321" y="285"/>
<use href="#t" x="1158" y="238"/><use href="#b" x="1222.2" y="250.7"/>
<use href="#u" x="1053" y="219"/><use href="#b" x="1119.4" y="230"/><use href="#b" x="1065" y="284.5" opacity="0.85"/>
<use href="#u" x="945" y="215"/><use href="#b" x="956.5" y="277.6"/>
<use href="#u" x="838" y="227"/><use href="#b" x="849.9" y="287.7"/>
<use href="#u" x="734" y="254"/><use href="#b" x="745.6" y="310"/>
<use href="#u" x="635" y="296"/><use href="#b" x="646.7" y="345.3"/>
<use href="#u" x="543" y="352"/><use href="#b" x="555.1" y="396.6"/>
<use href="#t" x="460" y="421"/><use href="#b" x="471.8" y="462.3"/>
<use href="#t" x="388" y="501"/><use href="#b" x="399.2" y="539.1"/>
<use href="#u" x="329" y="591"/><use href="#b" x="341" y="626.6"/>
<use href="#t" x="283" y="688"/><use href="#b" x="295.3" y="721.2"/>
<use href="#t" x="252" y="791"/><use href="#b" x="317.4" y="824.8"/>
<use href="#u" x="237" y="898"/><use href="#b" x="303.6" y="934.9"/>
<use href="#u" x="237" y="1006"/><use href="#b" x="303.6" y="1050.3"/>
<use href="#t" x="252" y="1112"/><use href="#b" x="317.4" y="1164.1"/>
<use href="#t" x="283" y="1215"/><use href="#b" x="348.7" y="1271.8"/>
<use href="#u" x="329" y="1313"/><use href="#b" x="394.7" y="1373.5"/>
<use href="#t" x="388" y="1402"/><use href="#b" x="453.3" y="1465.9"/>
<use href="#t" x="460" y="1483"/><use href="#b" x="523.2" y="1545.8"/>
<use href="#u" x="543" y="1551"/><use href="#b" x="604.2" y="1617.1"/>
<use href="#u" x="635" y="1607"/><use href="#b" x="693.9" y="1672.7"/>
<use href="#u" x="734" y="1650"/><use href="#b" x="786.4" y="1714.5"/>
<use href="#u" x="838" y="1677"/><use href="#b" x="883.4" y="1741.7"/>
<use href="#u" x="945" y="1689"/><use href="#b" x="984.3" y="1754.1"/>
<use href="#u" x="1053" y="1685"/><use href="#b" x="1088.6" y="1749.5"/>
<use href="#t" x="1158" y="1665"/><use href="#b" x="1187.5" y="1730.7"/>
<use href="#t" x="1260" y="1630"/><use href="#b" x="1287.8" y="1695.7"/>
<use href="#u" x="1356" y="1581"/><use href="#b" transform="translate(1367.3 1593.6) scale(0.95)" opacity="0.8"/><use href="#b" transform="translate(1383.4 1646.1) scale(0.8)" opacity="0.12"/>
<use href="#u" x="1444" y="1518"/><use href="#b" x="1455.4" y="1530.6"/>
<use href="#u" x="1521" y="1444"/><use href="#b" x="1533" y="1454.9"/>
<use href="#u" x="1587" y="1359"/><use href="#b" x="1601" y="1370.5"/>
<use href="#t" x="1639" y="1265"/><use href="#b" x="1655.5" y="1276.1"/>
<use href="#u" x="1678" y="1164"/><use href="#b" x="1698.8" y="1175.8"/>
<use href="#t" x="1701" y="1059"/><use href="#b" x="1725.9" y="1071.1"/>
<polygon points="1565.6,1545.8 1574.0,1571.7 1601.3,1571.7 1579.2,1587.7 1587.6,1613.6 1565.6,1597.6 1543.6,1613.6 1552.0,1587.7 1529.9,1571.7 1557.2,1571.7" fill="#ffff00" stroke="#000" stroke-width="2.8" stroke-linejoin="round"/>
</g>
<rect x="220" y="200" width="1580" height="1580" fill="none" stroke="#000" stroke-width="2.2"/>
<path d="M378 1780v9.7M220 1622h-9.7M694 1780v9.7M220 1306h-9.7M1010 1780v9.7M220 990h-9.7M1326 1780v9.7M220 674h-9.7M1642 1780v9.7M220 358h-9.7" stroke="#000" stroke-width="2.2" fill="none"/>
<text x="378.4" y="1820.5" font-size="31" text-anchor="middle" textLength="38.3" lengthAdjust="spacingAndGlyphs">−2</text>
<text x="201.3" y="1632.8" font-size="31" text-anchor="end" textLength="38.3" lengthAdjust="spacingAndGlyphs">−2</text>
<text x="694.4" y="1820.5" font-size="31" text-anchor="middle" textLength="38.3" lengthAdjust="spacingAndGlyphs">−1</text>
<text x="201.3" y="1316.8" font-size="31" text-anchor="end" textLength="38.3" lengthAdjust="spacingAndGlyphs">−1</text>
<text x="1010.4" y="1820.5" font-size="31" text-anchor="middle" textLength="16.3" lengthAdjust="spacingAndGlyphs">0</text>
<text x="201.3" y="1000.8" font-size="31" text-anchor="end" textLength="16.3" lengthAdjust="spacingAndGlyphs">0</text>
<text x="1326.4" y="1820.5" font-size="31" text-anchor="middle" textLength="16.3" lengthAdjust="spacingAndGlyphs">1</text>
<text x="201.3" y="684.8" font-size="31" text-anchor="end" textLength="16.3" lengthAdjust="spacingAndGlyphs">1</text>
<text x="1642.4" y="1820.5" font-size="31" text-anchor="middle" textLength="16.3" lengthAdjust="spacingAndGlyphs">2</text>
<text x="201.3" y="368.8" font-size="31" text-anchor="end" textLength="16.3" lengthAdjust="spacingAndGlyphs">2</text>
<text x="1009.3" y="1865" font-size="36" text-anchor="middle" textLength="326.5" lengthAdjust="spacingAndGlyphs">Latent Dimension 1</text>
<text transform="translate(141 991.3) rotate(-90)" font-size="36" text-anchor="middle" textLength="324" lengthAdjust="spacingAndGlyphs">Latent Dimension 2</text>
<text x="1009.6" y="183" font-size="36" text-anchor="middle" textLength="592.5" lengthAdjust="spacingAndGlyphs">Latent Space with Decoded Images</text>
<text x="1199.2" y="66" font-size="36" text-anchor="middle" textLength="945.2" lengthAdjust="spacingAndGlyphs">Goal type = upper_left_goal, train_dataset_size = 10000</text>
<text x="1199.2" y="105" font-size="36" text-anchor="middle" textLength="413" lengthAdjust="spacingAndGlyphs">Env 5, Context Sample 7</text>
<text x="2131.9" y="505" font-size="36" text-anchor="middle" textLength="247.6" lengthAdjust="spacingAndGlyphs">Context Image</text>
<text x="2131" y="1106" font-size="36" text-anchor="middle" textLength="337.5" lengthAdjust="spacingAndGlyphs">Mapped Goal Image</text>
<text x="2131.2" y="1144" font-size="36" text-anchor="middle" textLength="355.4" lengthAdjust="spacingAndGlyphs">(latent = 1.76, -1.88)</text>
<rect x="1982.7" y="522.2" width="297" height="296" fill="#fff" stroke="#000" stroke-width="2.2"/>
<rect x="2075.5" y="615.0" width="9.3" height="111.4" fill="#000"/>
<rect x="2177.6" y="615.0" width="9.3" height="111.4" fill="#000"/>
<polygon fill="#5ce93a" points="2001.3,661.4 2047.7,661.4 2047.7,670.7 2056.9,670.7 2056.9,717.1 2047.7,717.1 2047.7,726.4 2001.3,726.4 2001.3,717.1 1992.0,717.1 1992.0,670.7 2001.3,670.7"/>
<rect x="1982.7" y="1160.2" width="297" height="296" fill="#fff" stroke="#000" stroke-width="2.2"/>
<rect x="2075.5" y="1253.0" width="9.3" height="111.4" fill="#000"/>
<rect x="2177.6" y="1253.0" width="9.3" height="111.4" fill="#000"/>
<polygon fill="#5ce93a" points="2001.3,1169.5 2047.7,1169.5 2047.7,1178.8 2056.9,1178.8 2056.9,1225.2 2047.7,1225.2 2047.7,1234.5 2001.3,1234.5 2001.3,1225.2 1992.0,1225.2 1992.0,1178.8 2001.3,1178.8"/>
</svg>
</body></html>
